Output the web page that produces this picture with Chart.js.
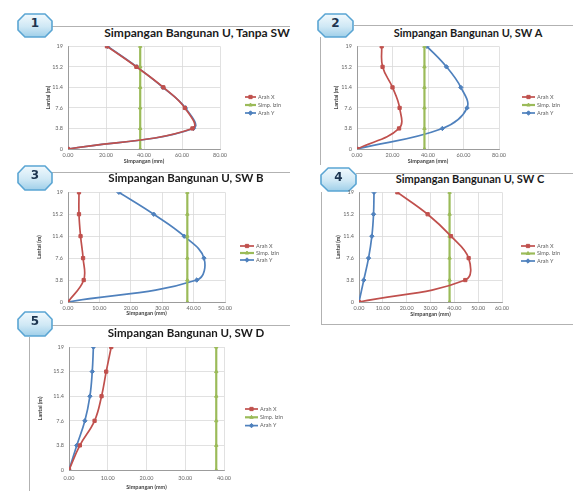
<!DOCTYPE html>
<html>
<head>
<meta charset="utf-8">
<script src="https://cdn.jsdelivr.net/npm/chart.js@4/dist/chart.umd.min.js"></script>
<style>
  html, body { margin: 0; padding: 0; background: #fff; }
  #sheet { position: relative; width: 573px; height: 491px; overflow: hidden; background: #fff; font-family: Lato, "Open Sans", sans-serif; }
  .rule { position: absolute; background: #b2b2b2; }
  .ttl { position: absolute; white-space: nowrap; font-weight: bold; color: #1b1b1b; transform: translate(-50%, -50%); line-height: 1; }
  canvas { position: absolute; }
  svg.badge { position: absolute; overflow: visible; }
</style>
</head>
<body>
<div id="sheet"></div>
<script>
// Floor heights (m) and the labels shown on the vertical axis
const heights = [0, 3.8, 7.6, 11.4, 15.2, 19];
const heightTicks = [0, 3.8, 7.6, 11.4, 15.2, 19];
const seriesNames = ['Arah X', 'Simp. Izin', 'Arah Y'];

// Storey drift (mm) at each floor height
const tanpaSwX = [0, 65.5, 61.5, 50.2, 36.0, 20.5];
const tanpaSwY = [0, 66.0, 61.8, 50.0, 36.2, 20.8];
const swAX = [0, 23.7, 24.0, 20.0, 14.4, 13.9];
const swAY = [0, 48.1, 62.0, 58.5, 50.4, 39.4];
const swBX = [0, 5.0, 4.8, 4.0, 3.5, 3.5];
const swBY = [0, 41.0, 43.3, 37.0, 27.3, 16.2];
const swCX = [0, 44.6, 46.0, 38.6, 28.8, 16.1];
const swCY = [0, 2.0, 4.0, 5.4, 6.1, 6.3];
const swDX = [0, 2.8, 6.6, 8.4, 9.6, 10.9];
const swDY = [0, 2.0, 4.1, 5.4, 6.0, 6.3];
// Allowable drift (mm)
const simpIzin = [38, 38, 38, 38, 38, 38];

const titles = [
  'Simpangan Bangunan U, Tanpa SW',
  'Simpangan Bangunan U, SW A',
  'Simpangan Bangunan U, SW B',
  'Simpangan Bangunan U, SW C',
  'Simpangan Bangunan U, SW D'
];
const badgeNumbers = ['1', '2', '3', '4', '5'];
const xMaxes = [80, 80, 50, 60, 40];
const xSteps = [20, 20, 10, 10, 10];
const xSeries = [tanpaSwX, swAX, swBX, swCX, swDX];
const ySeries = [tanpaSwY, swAY, swBY, swCY, swDY];

const RED = '#c0504d', GREEN = '#9bbb59', BLUE = '#4f81bd';

// Page geometry of each panel: canvas box, plot box, axis band sizes, title and key placement
const panels = [
  { cv: [20, 38, 275, 130], plot: [68, 220, 46, 149], yw: 23, xh: 16, tpad: 3,
    title: [197, 33, 12], key: [245, 97, 8, 11], badge: [17, 13, 36, 25] },
  { cv: [322, 38, 251, 130], plot: [357, 499, 46, 149], yw: 24, xh: 16, tpad: 3,
    title: [468, 32, 11], key: [522, 97, 8, 13], badge: [317, 13, 37, 25] },
  { cv: [20, 184, 275, 134], plot: [68, 225, 192, 302], yw: 32, xh: 15, tpad: 3,
    title: [186, 178, 11.5], key: [240, 246, 7, 14], badge: [17, 165, 36, 26] },
  { cv: [322, 184, 251, 138], plot: [359, 502, 192, 302], yw: 24, xh: 16, tpad: 3,
    title: [470, 178, 11], key: [521, 246, 7.5, 14], badge: [320, 167, 37, 25] },
  { cv: [30, 338, 265, 153], plot: [69, 224, 347, 470], yw: 32, xh: 21, tpad: 5,
    title: [186, 333, 11.5], key: [245, 409, 8.3, 13], badge: [17, 311, 36, 26] }
];

// Panel frame lines [left, top, width, height]
const rules = [
  [52, 26, 238, 1],
  [354, 25, 219, 1], [320, 37, 1, 128],
  [52, 172, 238, 1],
  [356, 173, 217, 1], [321, 192, 1, 132], [321, 324, 252, 1],
  [52, 325, 238, 1], [29, 337, 1, 154]
];

const sheet = document.getElementById('sheet');

rules.forEach(r => {
  const d = document.createElement('div');
  d.className = 'rule';
  d.style.left = r[0] + 'px'; d.style.top = r[1] + 'px';
  d.style.width = r[2] + 'px'; d.style.height = r[3] + 'px';
  sheet.appendChild(d);
});

// Series key drawn to the right of each plot: line sample, marker, name
const seriesKey = {
  id: 'seriesKey',
  afterDraw(chart, args, opts) {
    const ctx = chart.ctx;
    chart.data.datasets.forEach((ds, i) => {
      const y = opts.y + i * opts.gap;
      ctx.save();
      ctx.strokeStyle = ds.borderColor;
      ctx.lineWidth = ds.borderWidth;
      ctx.beginPath();
      ctx.moveTo(opts.x, y);
      ctx.lineTo(opts.x + opts.len, y);
      ctx.stroke();
      ctx.fillStyle = ds.backgroundColor;
      ctx.strokeStyle = ds.borderColor;
      ctx.lineWidth = 1;
      Chart.helpers.drawPoint(ctx, { pointStyle: ds.pointStyle, radius: ds.pointRadius, rotation: 0, borderWidth: 1 },
        opts.x + opts.len / 2, y);
      ctx.fillStyle = '#5e5e5e';
      ctx.font = '5.5px Lato, "Open Sans", sans-serif';
      ctx.textBaseline = 'middle';
      ctx.textAlign = 'left';
      ctx.fillText(ds.label, opts.x + opts.len + 2, y);
      ctx.restore();
    });
  }
};

function points(vals) {
  return vals.map((v, i) => ({ x: v, y: heights[i] }));
}

function badgeSvg(b, num) {
  const [x, y, w, h] = b;
  const ns = 'http://www.w3.org/2000/svg';
  const svg = document.createElementNS(ns, 'svg');
  svg.setAttribute('class', 'badge');
  svg.setAttribute('width', w); svg.setAttribute('height', h);
  svg.style.left = x + 'px'; svg.style.top = y + 'px';
  const gid = 'g' + num;
  svg.innerHTML =
    '<defs><linearGradient id="' + gid + '" x1="0" y1="0" x2="0" y2="1">' +
    '<stop offset="0" stop-color="#f1f9fd"/><stop offset="0.55" stop-color="#cfe8f5"/>' +
    '<stop offset="1" stop-color="#9fcfe9"/></linearGradient></defs>' +
    '<polygon points="' + [
      [0.22 * w, 1], [0.78 * w, 1], [w - 1, 0.32 * h], [w - 1, 0.68 * h],
      [0.78 * w, h - 1], [0.22 * w, h - 1], [1, 0.68 * h], [1, 0.32 * h]
    ].map(p => p.join(',')).join(' ') +
    '" fill="url(#' + gid + ')" stroke="#5aa5d3" stroke-width="1.6" stroke-linejoin="round"/>' +
    '<text x="' + (w / 2) + '" y="' + (h * 0.42) + '" text-anchor="middle" dominant-baseline="middle" ' +
    'font-family="DejaVu Sans, sans-serif" font-weight="bold" font-size="12" fill="#1d3550">' + num + '</text>';
  sheet.appendChild(svg);
}

panels.forEach((p, idx) => {
  badgeSvg(p.badge, badgeNumbers[idx]);

  const t = document.createElement('div');
  t.className = 'ttl';
  t.textContent = titles[idx];
  t.style.left = p.title[0] + 'px';
  t.style.top = p.title[1] + 'px';
  t.style.fontSize = p.title[2] + 'px';
  sheet.appendChild(t);

  const [cl, ct, cw, ch] = p.cv;
  const [px0, px1, py0, py1] = p.plot;
  const canvas = document.createElement('canvas');
  canvas.width = cw; canvas.height = ch;
  canvas.style.left = cl + 'px'; canvas.style.top = ct + 'px';
  canvas.style.width = cw + 'px'; canvas.style.height = ch + 'px';
  sheet.appendChild(canvas);

  const tickFont = { family: 'Lato, "Open Sans", sans-serif', size: 5.5 };
  const axisTitleFont = { family: 'Lato, "Open Sans", sans-serif', size: 5.5, weight: 'bold' };

  new Chart(canvas, {
    type: 'scatter',
    data: {
      datasets: [
        { label: seriesNames[0], data: points(xSeries[idx]), showLine: true, tension: 0.4,
          borderColor: RED, backgroundColor: RED, borderWidth: 1.7,
          pointStyle: 'rect', pointRadius: 2.3, pointBorderWidth: 1 },
        { label: seriesNames[1], data: points(simpIzin), showLine: true, tension: 0,
          borderColor: GREEN, backgroundColor: GREEN, borderWidth: 2.2,
          pointStyle: 'triangle', pointRadius: 2, pointBorderWidth: 1 },
        { label: seriesNames[2], data: points(ySeries[idx]), showLine: true, tension: 0.4,
          borderColor: BLUE, backgroundColor: BLUE, borderWidth: 1.7,
          pointStyle: 'rectRot', pointRadius: 2.2, pointBorderWidth: 1 }
      ]
    },
    options: {
      responsive: false,
      animation: false,
      devicePixelRatio: 1,
      layout: {
        padding: {
          left: px0 - cl - p.yw,
          right: cl + cw - px1,
          top: py0 - ct,
          bottom: ct + ch - py1 - p.xh
        }
      },
      plugins: {
        legend: { display: false },
        tooltip: { enabled: false },
        seriesKey: { x: p.key[0] - cl, y: p.key[1] - ct, gap: p.key[2], len: p.key[3] }
      },
      scales: {
        x: {
          type: 'linear', min: 0, max: xMaxes[idx],
          afterFit: s => { s.height = p.xh; },
          ticks: { stepSize: xSteps[idx], font: tickFont, color: '#666', padding: p.tpad, maxRotation: 0,
                   callback: v => Number(v).toFixed(2) },
          grid: { color: '#d9d9d9', lineWidth: 0.8, drawTicks: false },
          border: { display: true, color: '#8c8c8c', width: 0.8 },
          title: { display: true, text: 'Simpangan (mm)', font: axisTitleFont, color: '#444', padding: 0 }
        },
        y: {
          type: 'linear', min: 0, max: 19,
          afterBuildTicks: s => { s.ticks = heightTicks.map(v => ({ value: v })); },
          afterFit: s => { s.width = p.yw; },
          ticks: { font: tickFont, color: '#666', padding: 5, callback: v => String(v) },
          grid: { color: '#d9d9d9', lineWidth: 0.8, drawTicks: false },
          border: { display: true, color: '#8c8c8c', width: 0.8 },
          title: { display: true, text: 'Lantai (m)', font: axisTitleFont, color: '#444', padding: 0 }
        }
      }
    },
    plugins: [seriesKey]
  });
});
</script>
</body>
</html>
